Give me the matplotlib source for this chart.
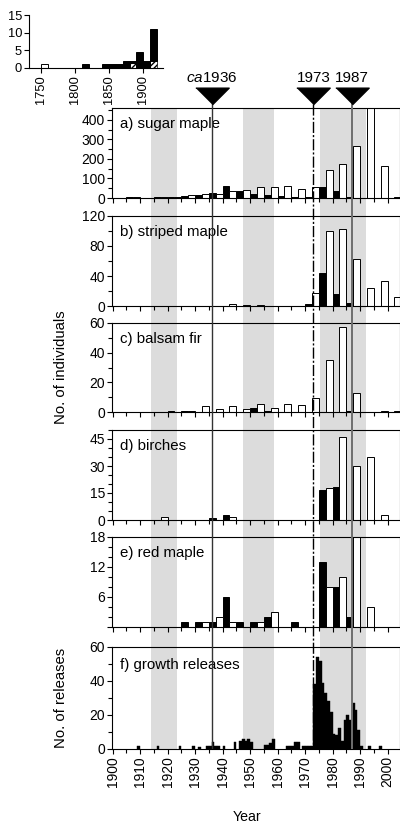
import numpy as np
import matplotlib.pyplot as plt
from matplotlib.ticker import MultipleLocator

plt.rcParams['font.family'] = ['Liberation Sans', 'DejaVu Sans']
plt.rcParams['mathtext.fontset'] = 'custom'
plt.rcParams['mathtext.it'] = 'Liberation Sans:italic'
plt.rcParams['mathtext.rm'] = 'Liberation Sans'

# 5-year bins: black bar = first half of bin, open bar = second half
bins = np.arange(1900, 2001, 5)
sugar_black = [0, 4, 0, 5, 5, 10, 15, 25, 60, 37, 22, 17, 12, 5, 5, 54, 34, 5, 0, 0, 0]
sugar_white = [0, 4, 0, 5, 5, 13, 20, 20, 37, 40, 54, 54, 60, 48, 54, 145, 173, 264, 500, 162, 5]
striped_black = [0, 0, 0, 0, 0, 0, 0, 0, 0, 0, 0, 0, 0, 0, 3, 44, 16, 4, 0, 0, 0]
striped_white = [0, 0, 0, 0, 0, 0, 0, 0, 3, 2, 2, 0, 0, 0, 17, 100, 103, 62, 24, 33, 12]
fir_black = [0, 0, 0, 0, 1, 1, 0, 0, 0, 0, 2.5, 0.5, 0, 0, 0, 0, 0, 0.7, 0, 0, 0]
fir_white = [0, 0, 0, 0, 0, 1, 4, 2, 4, 2, 5.5, 2.5, 5.5, 5, 9.5, 35, 57, 12.5, 0, 1, 1]
birch_black = [0, 0, 0, 0, 0, 0, 0, 1, 3, 0, 0, 0, 0, 0, 0, 16.5, 18.5, 0, 0, 0, 0]
birch_white = [0, 0, 0, 1.5, 0, 0, 0, 0, 1.5, 0, 0, 0, 0, 0, 0, 18, 46, 30, 35, 3, 0]
red_black = [0, 0, 0, 0, 0, 1, 1, 1, 6, 1, 1, 2, 0, 1, 0, 13, 8, 2, 0, 0, 0]
red_white = [0, 0, 0, 0, 0, 0, 1, 2, 1, 0, 1, 3, 0, 0, 0, 8, 10, 20, 4, 0, 0]

# annual growth releases
release_years = [1909, 1916, 1924, 1929, 1931, 1934, 1935, 1936, 1937, 1938, 1940, 1944,
                 1946, 1947, 1948, 1949, 1950, 1955, 1956, 1957, 1958, 1963, 1964, 1965,
                 1966, 1967, 1969, 1970, 1971, 1972, 1973, 1974, 1975, 1976, 1977, 1978,
                 1979, 1980, 1981, 1982, 1983, 1984, 1985, 1986, 1987, 1988, 1989, 1990,
                 1993, 1997]
release_counts = [1.5, 2, 2, 2, 1, 1.5, 1.5, 4, 1.5, 1.5, 1.5, 4,
                  5, 6, 5, 6, 4, 2.5, 2.5, 3.5, 6, 1.5, 1.5, 1.5,
                  4, 4, 1.5, 1.5, 1.5, 1.5, 38, 54, 52, 39, 33, 28,
                  22, 9, 8, 12.5, 5, 17, 20, 17, 27, 23, 11, 1.5,
                  1.5, 1.5]

# inset: older establishment (decades)
inset_bins = [1750, 1810, 1840, 1850, 1860, 1870, 1880, 1890, 1900, 1910]
inset_open = [1, 0, 0, 0, 0, 0, 0, 0, 0, 0]
inset_hatch = [0, 0, 0, 0, 0, 0, 1.5, 0, 0, 2]
inset_black = [0, 1, 1, 1, 1, 2, 0.5, 4.5, 2, 9]

bands = [(1914, 1923.5), (1947.3, 1958.6), (1975.5, 1992.3)]
events = [1936, 1973, 1987]
event_labels = [r'$\mathit{ca}$1936', '1973', '1987']

panels = [
    ('a) sugar maple', sugar_black, sugar_white, 460, [0, 100, 200, 300, 400], 50),
    ('b) striped maple', striped_black, striped_white, 120, [0, 40, 80, 120], 20),
    ('c) balsam fir', fir_black, fir_white, 60, [0, 20, 40, 60], 10),
    ('d) birches', birch_black, birch_white, 50, [0, 15, 30, 45], 5),
    ('e) red maple', red_black, red_white, 18, [0, 6, 12, 18], 2),
]
# panel (top, bottom) in pixels
rows = [(108, 198), (216, 306), (323, 412), (430, 520), (537, 627), (647, 749)]

W, H = 400, 825
L, R = 112, 400
XLIM = (1899.8, 2004.5)
fig = plt.figure(figsize=(W / 100, H / 100), dpi=100)


def px_axes(left, top, right, bottom, **kw):
    return fig.add_axes([left / W, 1 - bottom / H, (right - left) / W, (bottom - top) / H], **kw)


def style(ax, size=10):
    for s in ax.spines.values():
        s.set_linewidth(0.8)
    ax.tick_params(which='both', direction='out', width=0.8, labelsize=size, pad=1.5)
    ax.tick_params(which='major', length=3.5)
    ax.tick_params(which='minor', length=3)


# background shading
bg = px_axes(L, rows[0][0], R, rows[-1][1])
bg.set_xlim(XLIM)
bg.set_ylim(0, 1)
for b0, b1 in bands:
    bg.axvspan(b0, b1, color='#dcdcdc', lw=0)
bg.axis('off')

axes = []
for i, (top, bottom) in enumerate(rows):
    ax = px_axes(L, top, R, bottom)
    ax.patch.set_visible(False)
    ax.set_xlim(XLIM)
    ax.xaxis.set_major_locator(MultipleLocator(10))
    ax.xaxis.set_minor_locator(MultipleLocator(5))
    style(ax)
    axes.append(ax)

for ax, (lab, blk, wht, ymax, yt, ymin) in zip(axes[:5], panels):
    ax.bar(bins, blk, width=2.5, align='edge', color='black', edgecolor='black', lw=0.7)
    ax.bar(bins + 2.5, wht, width=2.5, align='edge', color='white', edgecolor='black', lw=0.7)
    ax.set_ylim(0, ymax)
    ax.set_yticks(yt)
    ax.yaxis.set_minor_locator(MultipleLocator(ymin))
    ax.set_xticklabels([])
    ax.annotate(lab, xy=(0, 1), xycoords='axes fraction', xytext=(5.5, -11.5),
                textcoords='offset points', va='center', fontsize=10.8)
axes[4].set_yticklabels(['', '6', '12', '18'])

axf = axes[5]
axf.bar(release_years, release_counts, width=1.0, align='edge', color='black',
        edgecolor='black', lw=0.3)
axf.set_ylim(0, 60)
axf.set_yticks([0, 20, 40, 60])
axf.yaxis.set_minor_locator(MultipleLocator(10))
axf.set_xticks(np.arange(1900, 2001, 10))
axf.set_xticklabels([str(y) for y in range(1900, 2001, 10)], rotation=90)
axf.annotate('f) growth releases', xy=(0, 1), xycoords='axes fraction', xytext=(5.5, -13),
             textcoords='offset points', va='center', fontsize=10.8)

# event lines, triangles and labels (overlay in pixel rows)
ov = px_axes(L, 60, R, rows[-1][1], zorder=10)
ov.set_xlim(XLIM)
ov.set_ylim(rows[-1][1], 60)
ov.axis('off')
line_styles = [dict(color='#333333', lw=1.0, ls='-'),
               dict(color='black', lw=1.0, ls=(0, (8, 1.5, 1.5, 1.5))),
               dict(color='#6e6e6e', lw=1.4, ls='-')]
tri = [(-1, 0.5), (1, 0.5), (0, -0.5)]
for x, lab, st in zip(events, event_labels, line_styles):
    ov.plot([x, x], [104, rows[-1][1]], **st)
    ov.plot([x], [96.5], marker=tri, ms=24, color='black', ls='none')
    ov.text(x, 78, lab, ha='center', va='center', fontsize=11)

fig.text(61 / W, 1 - 367 / H, 'No. of individuals', rotation=90, ha='center', va='center', fontsize=10.7)
fig.text(61 / W, 1 - 698 / H, 'No. of releases', rotation=90, ha='center', va='center', fontsize=10.7)
fig.text(247 / W, 1 - 817 / H, 'Year', ha='center', va='center', fontsize=10.2)

# inset
ins = px_axes(29, 15, 163, 68)
ins.bar(inset_bins, inset_open, width=10, align='edge', color='white', edgecolor='black', lw=0.7)
ins.bar(inset_bins, inset_hatch, width=10, align='edge', color='white', edgecolor='black',
        hatch='//////', lw=0.5)
ins.bar(inset_bins, inset_black, bottom=inset_hatch, width=10, align='edge', color='black',
        edgecolor='black', lw=0.7)
ins.set_xlim(1732, 1929)
ins.set_ylim(0, 15)
ins.set_yticks([0, 5, 10, 15])
ins.set_xticks([1750, 1800, 1850, 1900])
ins.set_xticklabels(['1750', '1800', '1850', '1900'], rotation=90)
ins.spines['top'].set_visible(False)
ins.spines['right'].set_visible(False)
style(ins, size=9.3)

fig.savefig('out.png', dpi=100)
